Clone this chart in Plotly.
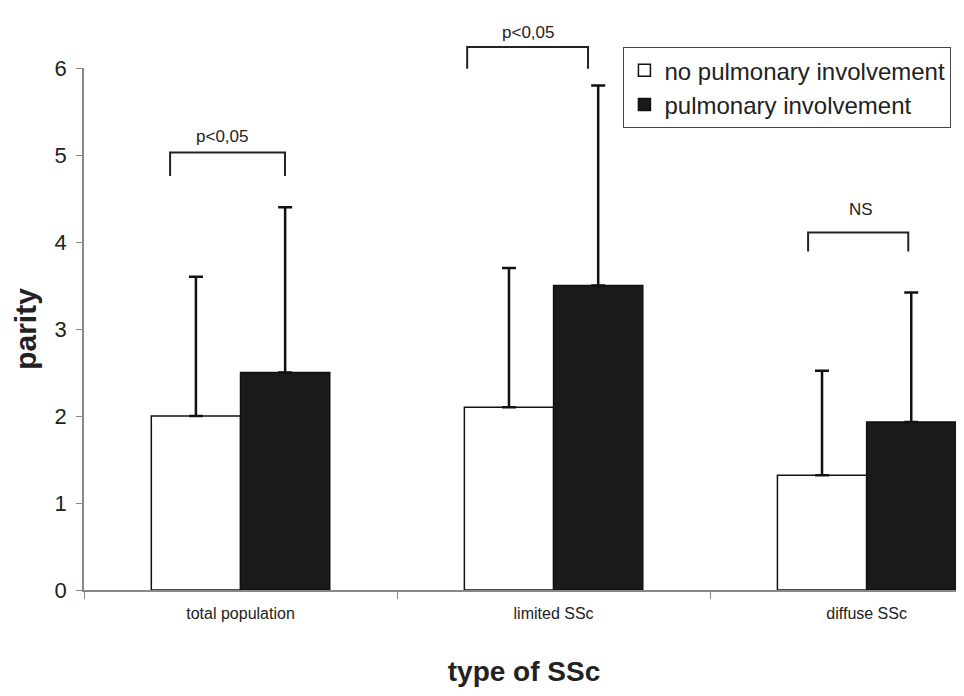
import plotly.graph_objects as go

# ---- data ----
categories = ["total population", "limited SSc", "diffuse SSc"]
no_pulm_mean = [2.0, 2.1, 1.32]
no_pulm_sd = [1.6, 1.6, 1.2]
pulm_mean = [2.5, 3.5, 1.93]
pulm_sd = [1.9, 2.3, 1.49]
y_tick_vals = [0, 1, 2, 3, 4, 5, 6]
sig_labels = ["p<0,05", "p<0,05", "NS"]

# bracket geometry (x in category units, y in data units)
br_left = [-0.225, 0.724, 1.813]
br_right = [0.142, 1.110, 2.133]
br_text_x = [-0.059, 0.918, 1.982]
br_top = [5.03, 6.24, 4.11]
br_bottom = [4.76, 5.99, 3.89]
br_text_y = [5.34, 6.54, 4.51]

FONT = "Liberation Sans, Arial, sans-serif"
NARROW = "Liberation Sans Narrow, Arial Narrow, Liberation Sans, Arial, sans-serif"
YMAX = 6.0

fig = go.Figure()
fig.add_trace(go.Bar(
    x=categories, y=no_pulm_mean, name="no pulmonary involvement",
    marker=dict(color="white", line=dict(color="#111111", width=1.5)),
    error_y=dict(type="data", symmetric=False, array=no_pulm_sd,
                 arrayminus=[0] * len(no_pulm_sd), color="#111111",
                 thickness=2.5, width=7),
))
fig.add_trace(go.Bar(
    x=categories, y=pulm_mean, name="pulmonary involvement",
    marker=dict(color="#1a1a1a", line=dict(color="#111111", width=1.5)),
    error_y=dict(type="data", symmetric=False, array=pulm_sd,
                 arrayminus=[0] * len(pulm_sd), color="#111111",
                 thickness=2.5, width=7),
))

for i in range(len(sig_labels)):
    fig.add_shape(type="path", xref="x", yref="paper",
                  path=(f"M {br_left[i]},{br_bottom[i]/YMAX} L {br_left[i]},{br_top[i]/YMAX} "
                        f"L {br_right[i]},{br_top[i]/YMAX} L {br_right[i]},{br_bottom[i]/YMAX}"),
                  line=dict(color="#222222", width=2))
    fig.add_annotation(x=br_text_x[i], y=br_text_y[i] / YMAX, xref="x", yref="paper",
                       text=sig_labels[i], showarrow=False,
                       font=dict(family=FONT, size=17, color="#222222"))

# page body has an 8px margin: compensate
fig.update_layout(
    width=956, height=680,
    margin=dict(l=76, r=0, t=60, b=98, autoexpand=False),
    plot_bgcolor="white", paper_bgcolor="white",
    barmode="group", bargap=0.43, bargroupgap=0,
    font=dict(family=FONT, color="#222222"),
    showlegend=True,
    legend=dict(x=0.613, y=1.04, xanchor="left", yanchor="top",
                bgcolor="white", bordercolor="#444444", borderwidth=1,
                font=dict(family=FONT, size=24, color="#222222"),
                itemwidth=30, tracegroupgap=0),
)
fig.update_xaxes(
    type="category", range=[-0.5, 2.311],
    showline=True, linecolor="#888888", linewidth=1.5,
    ticks="outside", tickson="boundaries", ticklen=7, tickcolor="#888888",
    tickfont=dict(family=NARROW, size=16, color="#222222"),
    ticklabelstandoff=8,
    showgrid=False,
    title=dict(text="<b>type of SSc</b>", font=dict(family=FONT, size=28, color="#222222"),
               standoff=40),
)
fig.update_yaxes(
    range=[0, YMAX], tickvals=y_tick_vals,
    showline=True, linecolor="#888888", linewidth=1.5,
    ticks="outside", ticklen=6, tickcolor="#888888",
    tickfont=dict(family=FONT, size=22, color="#222222"),
    ticklabelstandoff=5,
    showgrid=False, zeroline=False,
    title=dict(text="<b>parity</b>", font=dict(family=FONT, size=30, color="#222222"),
               standoff=9),
)

fig.write_html("out.html")
